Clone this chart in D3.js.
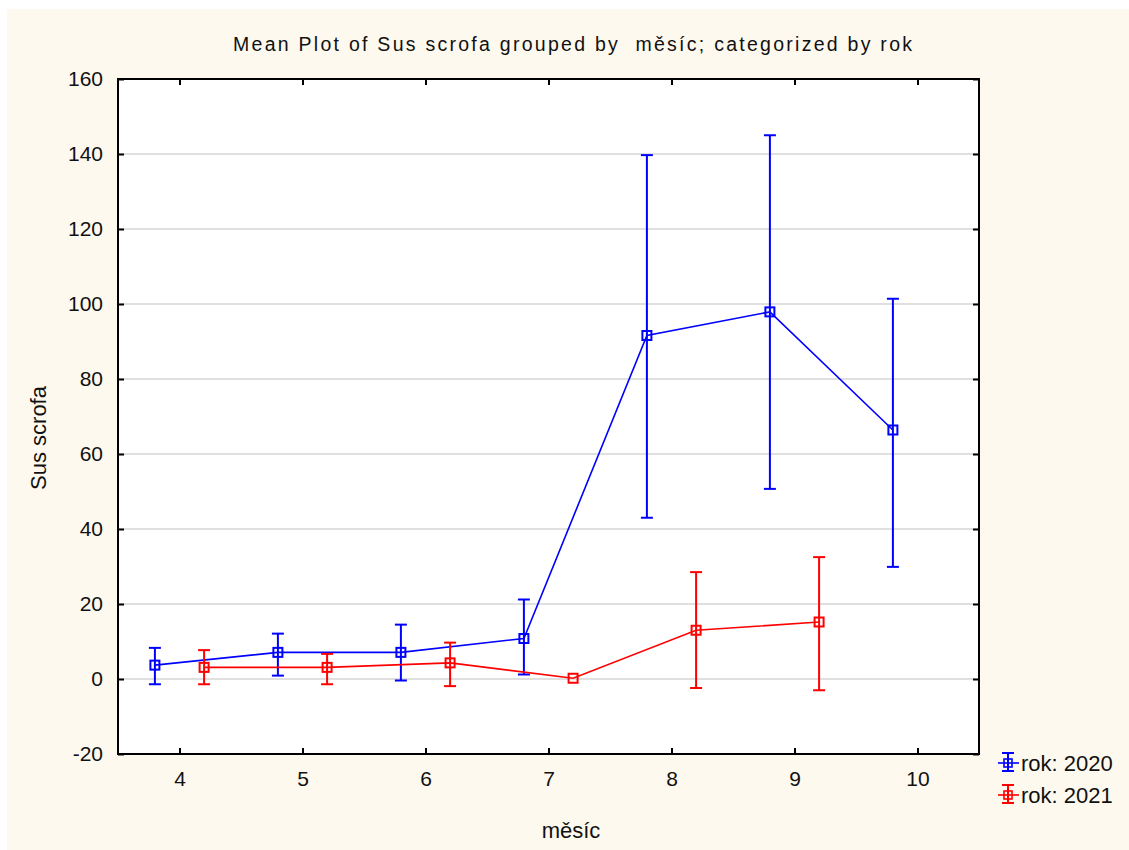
<!DOCTYPE html>
<html><head><meta charset="utf-8">
<script src="https://cdn.jsdelivr.net/npm/d3@7"></script>
<style>body{margin:0;background:#fff}svg{display:block}text{font-family:"Liberation Sans",Arial,sans-serif;fill:#111}</style>
</head><body><svg id="c" width="1129" height="850"></svg>
<script>
const months = [4,5,6,7,8,9,10];
const mean2020 = [3.7, 7.1, 7.1, 10.8, 91.6, 97.9, 66.4];
const lower2020 = [-1.4, 0.9, -0.4, 1.2, 43.0, 50.7, 29.9];
const upper2020 = [8.3, 12.1, 14.5, 21.2, 139.7, 145.0, 101.4];
const months2021 = [4,5,6,7,8,9];
const mean2021 = [3.1, 3.1, 4.3, 0.2, 13.0, 15.2];
const lower2021 = [-1.4, -1.4, -1.9, 0.2, -2.4, -3.0];
const upper2021 = [7.7, 6.7, 9.7, 0.2, 28.5, 32.5];
const yTicks = [-20,0,20,40,60,80,100,120,140,160];
const xTicks = [4,5,6,7,8,9,10];
const seriesNames = ["rok: 2020","rok: 2021"];
const title = "Mean Plot of Sus scrofa grouped by  měsíc; categorized by rok";
const xLabel = "měsíc", yLabel = "Sus scrofa";

const svg = d3.select("#c");
svg.append("rect").attr("x",0).attr("y",0).attr("width",1129).attr("height",850).attr("fill","#fff");
svg.append("rect").attr("x",7).attr("y",9).attr("width",1122).attr("height",841).attr("fill","#fef9ef");

const L=118,R=979,T=79,B=754;
const x = d3.scaleLinear().domain([3.5,10.5]).range([L,R]);
const y = d3.scaleLinear().domain([-20,160]).range([B,T]);
const fmt = d => String(d);

svg.append("rect").attr("x",L).attr("y",T).attr("width",R-L).attr("height",B-T).attr("fill","#fff");
// grid
svg.append("g").selectAll("line").data(yTicks.filter(d=>d>-20&&d<160)).join("line")
  .attr("x1",L).attr("x2",R).attr("y1",d=>y(d)).attr("y2",d=>y(d))
  .attr("stroke","#d6d6d6").attr("stroke-width",1.5);

// axes with inward ticks
const ax = svg.append("g");
const styleText = g=>g.selectAll("text").attr("font-size",21).attr("fill","#111").attr("font-family","Liberation Sans, Arial, sans-serif");
ax.append("g").attr("transform",`translate(0,${B})`).call(d3.axisBottom(x).tickValues(xTicks).tickFormat(fmt).tickSizeInner(-6).tickSizeOuter(0).tickPadding(17))
  .call(g=>{g.select(".domain").remove();styleText(g);});
ax.append("g").attr("transform",`translate(0,${T})`).call(d3.axisTop(x).tickValues(xTicks).tickSizeInner(-6).tickSizeOuter(0))
  .call(g=>{g.select(".domain").remove();g.selectAll("text").remove();});
ax.append("g").attr("transform",`translate(${L},0)`).call(d3.axisLeft(y).tickValues(yTicks).tickFormat(fmt).tickSizeInner(-6).tickSizeOuter(0).tickPadding(15))
  .call(g=>{g.select(".domain").remove();styleText(g);});
ax.append("g").attr("transform",`translate(${R},0)`).call(d3.axisRight(y).tickValues(yTicks).tickSizeInner(-6).tickSizeOuter(0))
  .call(g=>{g.select(".domain").remove();g.selectAll("text").remove();});
ax.selectAll(".tick line").attr("stroke","#000").attr("stroke-width",2);
svg.append("rect").attr("x",L).attr("y",T).attr("width",R-L).attr("height",B-T).attr("fill","none").attr("stroke","#000").attr("stroke-width",2);

function drawSeries(ms, mean, lo, hi, off, color){
  const pts = ms.map((m,i)=>({x:m+off,m:mean[i],lo:lo[i],hi:hi[i]}));
  const g = svg.append("g");
  g.append("path").datum(pts).attr("d",d3.line().x(d=>x(d.x)).y(d=>y(d.m)))
    .attr("fill","none").attr("stroke",color).attr("stroke-width",1.6);
  const eb = g.selectAll("g.eb").data(pts.filter(d=>d.hi>d.lo)).join("g");
  eb.append("line").attr("x1",d=>x(d.x)).attr("x2",d=>x(d.x)).attr("y1",d=>y(d.lo)).attr("y2",d=>y(d.hi)).attr("stroke",color).attr("stroke-width",2);
  eb.append("line").attr("x1",d=>x(d.x)-6).attr("x2",d=>x(d.x)+6).attr("y1",d=>y(d.lo)).attr("y2",d=>y(d.lo)).attr("stroke",color).attr("stroke-width",2);
  eb.append("line").attr("x1",d=>x(d.x)-6).attr("x2",d=>x(d.x)+6).attr("y1",d=>y(d.hi)).attr("y2",d=>y(d.hi)).attr("stroke",color).attr("stroke-width",2);
  g.selectAll("rect").data(pts).join("rect").attr("x",d=>x(d.x)-4.5).attr("y",d=>y(d.m)-4.5).attr("width",9).attr("height",9)
    .attr("fill","none").attr("stroke",color).attr("stroke-width",2);
}
drawSeries(months, mean2020, lower2020, upper2020, -0.2, "#0000ff");
drawSeries(months2021, mean2021, lower2021, upper2021, 0.2, "#ff0000");

// title and labels
svg.append("text").attr("x",572.5).attr("y",51).attr("text-anchor","middle").attr("font-size",19.5)
  .style("white-space","pre").attr("textLength",679).attr("lengthAdjust","spacing").text(title);
svg.append("text").attr("x",571).attr("y",838).attr("text-anchor","middle").attr("font-size",22).text(xLabel);
svg.append("text").attr("transform","translate(46,438) rotate(-90)").attr("text-anchor","middle").attr("font-size",22).text(yLabel);

// legend
const colors = ["#0000ff","#ff0000"];
const lg = svg.append("g").selectAll("g").data(seriesNames).join("g").attr("transform",(d,i)=>`translate(1008,${762+i*32})`);
lg.append("line").attr("x1",0).attr("x2",0).attr("y1",-9).attr("y2",9).attr("stroke",(d,i)=>colors[i]).attr("stroke-width",2);
lg.append("line").attr("x1",-6).attr("x2",6).attr("y1",-9).attr("y2",-9).attr("stroke",(d,i)=>colors[i]).attr("stroke-width",2);
lg.append("line").attr("x1",-6).attr("x2",6).attr("y1",9).attr("y2",9).attr("stroke",(d,i)=>colors[i]).attr("stroke-width",2);
lg.append("line").attr("x1",-10).attr("x2",11).attr("y1",1).attr("y2",1).attr("stroke",(d,i)=>colors[i]).attr("stroke-width",1.6);
lg.append("rect").attr("x",-4).attr("y",-3).attr("width",8).attr("height",8).attr("fill","none").attr("stroke",(d,i)=>colors[i]).attr("stroke-width",1.6);
lg.append("text").attr("x",13).attr("y",9).attr("font-size",22).text(d=>d);
</script></body></html>
